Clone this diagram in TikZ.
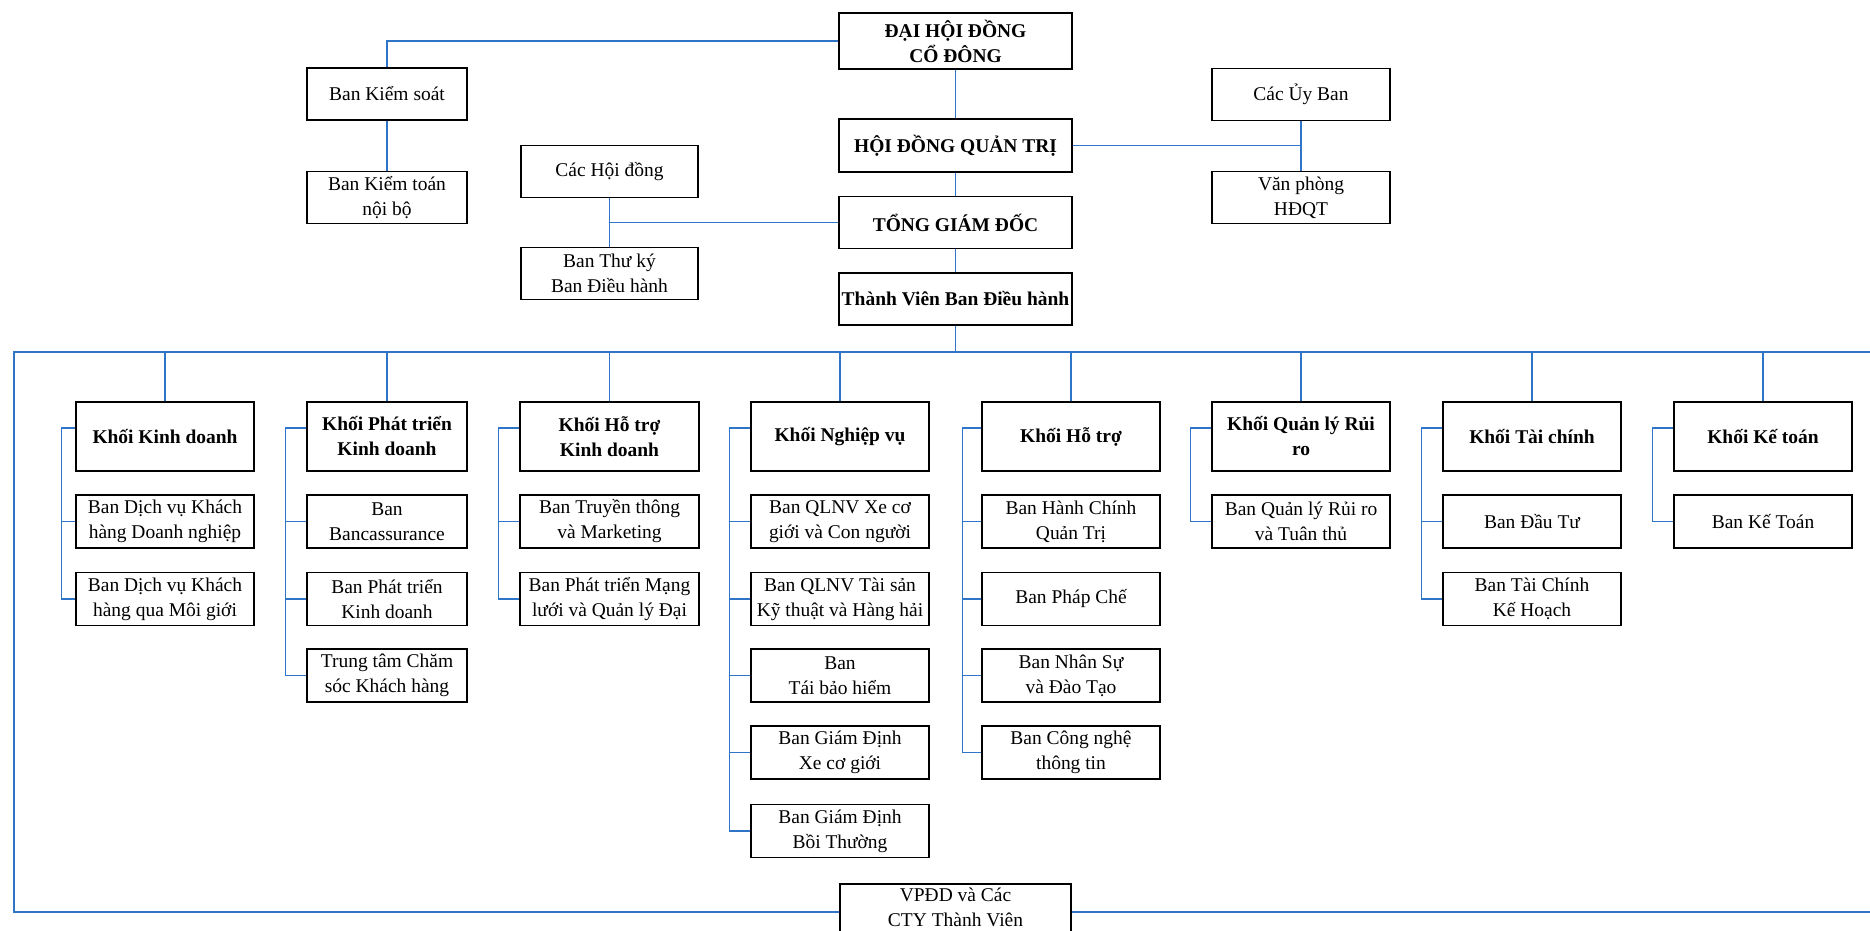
\documentclass[tikz,border=0pt]{standalone}
\usepackage{fontspec}
\setmainfont{Liberation Serif}
\definecolor{lineblue}{RGB}{46,117,200}
\begin{document}
\begin{tikzpicture}[x=0.75pt,y=-0.75pt,
  txt/.style={font=\fontsize{14.6}{18.75}\selectfont},
  bold/.style={font=\fontsize{14.6}{18.75}\selectfont\bfseries},
  bx/.style 2 args={draw=black, line width=1.1pt, inner sep=0pt, align=center, txt,
     minimum width=#1*0.75pt, minimum height=#2*0.75pt},
  kb/.style={bx={#1}{69}, bold},
  sb/.style={bx={#1}{53}},
  conn/.style={draw=lineblue, line width=1.1pt}]
\useasboundingbox (0,0) rectangle (1870,931);
\clip (0,0) rectangle (1870,931);

% ---------- top part ----------
\node[bx={233}{56}, bold] (dh)  at (955.5,41)  {ĐẠI HỘI ĐỒNG\\CỔ ĐÔNG};
\node[bx={233}{53}, bold] (hd)  at (955.5,145.5) {HỘI ĐỒNG QUẢN TRỊ};
\node[bx={233}{52}, bold] (tgd) at (955.5,222.5) {TỔNG GIÁM ĐỐC};
\node[bx={233}{52}, bold] (tv)  at (955.5,299)   {Thành Viên Ban Điều hành};

\node[bx={160}{52}] (bks) at (387,94)    {Ban Kiểm soát};
\node[bx={160}{52}] (bkt) at (387,197.5) {Ban Kiểm toán\\nội bộ};
\node[bx={177}{52}] (chd) at (609.5,171.5) {Các Hội đồng};
\node[bx={177}{52}] (btk) at (609.5,273.5) {Ban Thư ký\\Ban Điều hành};
\node[bx={178}{52}] (cub) at (1301,94.5)  {Các Ủy Ban};
\node[bx={178}{52}] (vp)  at (1301,197.5) {Văn phòng\\HĐQT};

\node[bx={231}{56}, text depth=6.5pt] (vpdd) at (955.5,912) {VPĐD và Các\\CTY Thành Viên};

% ---------- Khoi row ----------
\node[kb=178] (k1) at (165,436.5)  {Khối Kinh doanh};
\node[kb=160] (k2) at (387,436.5)  {Khối Phát triển\\Kinh doanh};
\node[kb=179] (k3) at (609.5,436.5){Khối Hỗ trợ\\Kinh doanh};
\node[kb=178] (k4) at (840,436.5)  {Khối Nghiệp vụ};
\node[kb=178] (k5) at (1071,436.5) {Khối Hỗ trợ};
\node[kb=178] (k6) at (1301,436.5) {Khối Quản lý Rủi\\ro};
\node[kb=178] (k7) at (1532,436.5) {Khối Tài chính};
\node[kb=178] (k8) at (1763,436.5) {Khối Kế toán};

% ---------- sub units ----------
\node[sb=178] (s1a) at (165,521.5) {Ban Dịch vụ Khách\\hàng Doanh nghiệp};
\node[sb=178] (s1b) at (165,599)   {Ban Dịch vụ Khách\\hàng qua Môi giới};

\node[sb=160] (s2a) at (387,521.5) {Ban\\Bancassurance};
\node[sb=160] (s2b) at (387,599)   {Ban Phát triển\\Kinh doanh};
\node[sb=160] (s2c) at (387,675.5) {Trung tâm Chăm\\sóc Khách hàng};

\node[sb=179] (s3a) at (609.5,521.5) {Ban Truyền thông\\và Marketing};
\node[sb=179] (s3b) at (609.5,599)   {Ban Phát triển Mạng\\lưới và Quản lý Đại};

\node[sb=178] (s4a) at (840,521.5) {Ban QLNV Xe cơ\\giới và Con người};
\node[sb=178] (s4b) at (840,599)   {Ban QLNV Tài sản\\Kỹ thuật và Hàng hải};
\node[sb=178] (s4c) at (840,675.5) {Ban\\Tái bảo hiểm};
\node[sb=178] (s4d) at (840,752.5) {Ban Giám Định\\Xe cơ giới};
\node[sb=178] (s4e) at (840,831)   {Ban Giám Định\\Bồi Thường};

\node[sb=178] (s5a) at (1071,521.5) {Ban Hành Chính\\Quản Trị};
\node[sb=178] (s5b) at (1071,599)   {Ban Pháp Chế};
\node[sb=178] (s5c) at (1071,675.5) {Ban Nhân Sự\\và Đào Tạo};
\node[sb=178] (s5d) at (1071,752.5) {Ban Công nghệ\\thông tin};

\node[sb=178] (s6a) at (1301,521.5) {Ban Quản lý Rủi ro\\và Tuân thủ};

\node[sb=178] (s7a) at (1532,521.5) {Ban Đầu Tư};
\node[sb=178] (s7b) at (1532,599)   {Ban Tài Chính\\Kế Hoạch};

\node[sb=178] (s8a) at (1763,521.5) {Ban Kế Toán};

% ---------- connectors: top ----------
\draw[conn] (dh.west) -| (bks.north);
\draw[conn] (bks.south) -- (bkt.north);
\draw[conn] (dh.south) -- (hd.north);
\draw[conn] (hd.south) -- (tgd.north);
\draw[conn] (tgd.south) -- (tv.north);
\draw[conn] (hd.east) -- (hd.east -| cub.south);
\draw[conn] (cub.south) -- (vp.north);
\draw[conn] (tgd.west) -- (tgd.west -| chd.south);
\draw[conn] (chd.south) -- (btk.north);

% ---------- bus ----------
\coordinate (bus)  at (14,352);
\coordinate (busR) at (1872,352);
\coordinate (botL) at (14,912);
\coordinate (botR) at (1872,912);
\draw[conn] (busR) -- (bus) -- (botL) -- (vpdd.west);
\draw[conn] (vpdd.east) -- (botR);
\draw[conn] (tv.south) -- (tv.south |- bus);
\foreach \k in {k1,k2,k3,k4,k5,k6,k7,k8}
  \draw[conn] (\k.north) -- (\k.north |- bus);

% ---------- brackets ----------
\draw[conn] ([yshift=6.4pt]k1.west) -- ++(-14,0) coordinate (b1) |- (s1b.west);
\draw[conn] (b1 |- s1a.west) -- (s1a.west);

\draw[conn] ([yshift=6.4pt]k2.west) -- ++(-21,0) coordinate (b2) |- (s2c.west);
\draw[conn] (b2 |- s2a.west) -- (s2a.west);
\draw[conn] (b2 |- s2b.west) -- (s2b.west);

\draw[conn] ([yshift=6.4pt]k3.west) -- ++(-21,0) coordinate (b3) |- (s3b.west);
\draw[conn] (b3 |- s3a.west) -- (s3a.west);

\draw[conn] ([yshift=6.4pt]k4.west) -- ++(-21,0) coordinate (b4) |- (s4e.west);
\foreach \s in {s4a,s4b,s4c,s4d}
  \draw[conn] (b4 |- \s.west) -- (\s.west);

\draw[conn] ([yshift=6.4pt]k5.west) -- ++(-19,0) coordinate (b5) |- (s5d.west);
\foreach \s in {s5a,s5b,s5c}
  \draw[conn] (b5 |- \s.west) -- (\s.west);

\draw[conn] ([yshift=6.4pt]k6.west) -- ++(-21,0) coordinate (b6) |- (s6a.west);

\draw[conn] ([yshift=6.4pt]k7.west) -- ++(-21,0) coordinate (b7) |- (s7b.west);
\draw[conn] (b7 |- s7a.west) -- (s7a.west);

\draw[conn] ([yshift=6.4pt]k8.west) -- ++(-21,0) coordinate (b8) |- (s8a.west);
\end{tikzpicture}
\end{document}
